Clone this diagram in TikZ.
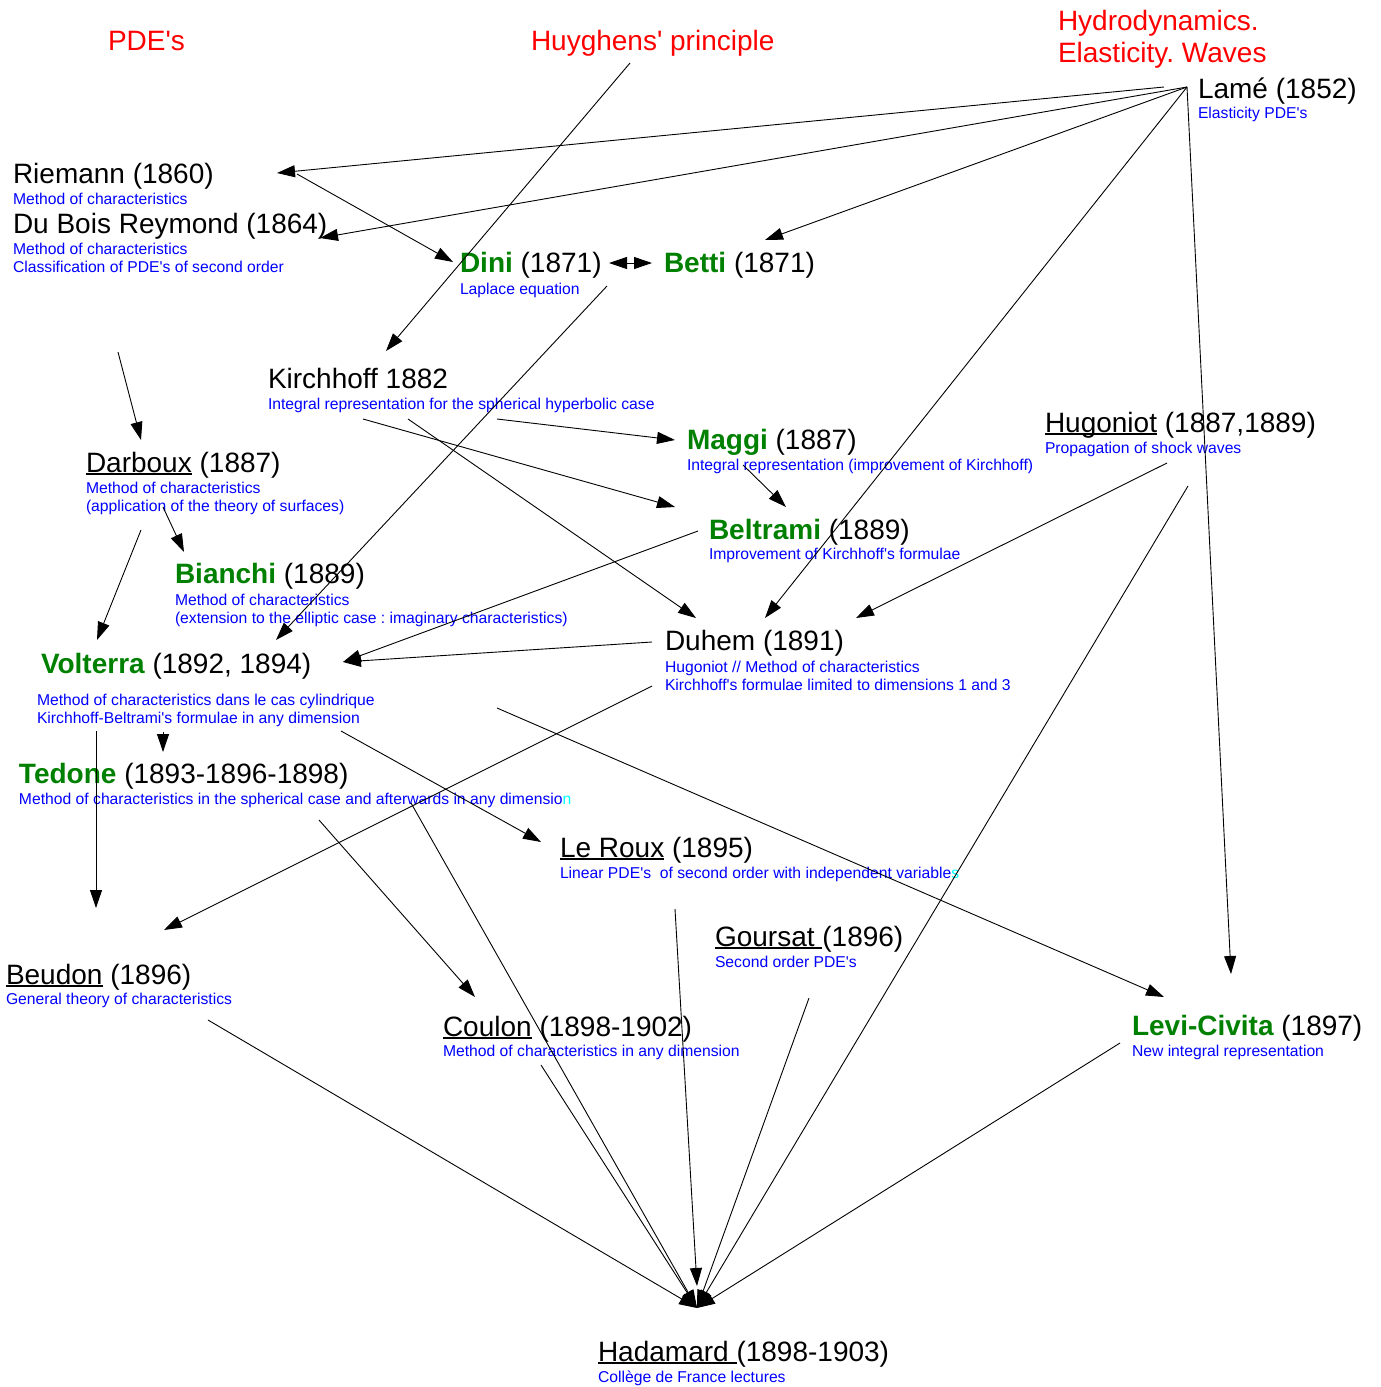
\documentclass[tikz,border=0pt]{standalone}
\usepackage{fontspec}
\setmainfont{Liberation Sans}[Ligatures=TeXOff]
\usetikzlibrary{arrows.meta}
\definecolor{tred}{RGB}{255,0,0}
\definecolor{dblue}{RGB}{0,0,255}
\definecolor{ngreen}{RGB}{0,128,0}
\definecolor{tcyan}{RGB}{0,255,255}
\newsavebox{\myulbox}
\newcommand\ulname[1]{\sbox\myulbox{#1}\rlap{\rule[-2.6pt]{\wd\myulbox}{1.8pt}}\usebox\myulbox}
\newcommand\gname[1]{\textbf{\textcolor{ngreen}{#1}}}
\frenchspacing
\tikzset{
 nm/.style={anchor=base west, inner sep=0pt, outer sep=0pt, font=\fontsize{28}{32}\selectfont},
 ds/.style={anchor=base west, inner sep=0pt, outer sep=0pt, font=\fontsize{15.7}{18}\selectfont, text=dblue},
 tp/.style={anchor=base west, inner sep=0pt, outer sep=0pt, font=\fontsize{28}{32}\selectfont, text=tred},
 arr/.style={line width=0.9pt, -{Triangle[length=18pt,width=12pt]}},
 darr/.style={line width=0.9pt, {Triangle[length=18pt,width=12pt]}-{Triangle[length=18pt,width=12pt]}},
}
\begin{document}
\begin{tikzpicture}[x=1pt,y=-1pt]
\useasboundingbox (0,0) rectangle (1381,1387);
% topics
\node[tp] (pdes) at (108,50) {PDE's};
\node[tp] (huy) at (531,50) {Huyghens' principle};
\node[tp] (hyd1) at (1058,30) {Hydrodynamics.};
\node[tp] (hyd2) at (1058,62) {Elasticity. Waves};
% people
\node[nm] (lame) at (1198,98) {Lamé (1852)};
\node[ds] (lameD) at (1198,118) {Elasticity PDE's};
\node[nm] (riemann) at (13,183) {Riemann (1860)};
\node[ds] (riemannD) at (13,204) {Method of characteristics};
\node[nm] (dubois) at (13,233) {Du Bois Reymond (1864)};
\node[ds] (duboisD1) at (13,254) {Method of characteristics};
\node[ds] (duboisD2) at (13,272) {Classification of PDE's of second order};
\node[nm] (dini) at (460,272) {\gname{Dini} (1871)};
\node[ds] (diniD) at (460,294) {Laplace equation};
\node[nm] (betti) at (664,272) {\gname{Betti} (1871)};
\node[nm] (kirch) at (268,388) {Kirchhoff 1882};
\node[ds] (kirchD) at (268,409) {Integral representation for the spherical hyperbolic case};
\node[nm] (hugo) at (1045,432) {\ulname{Hugoniot} (1887,1889)};
\node[ds] (hugoD) at (1045,453) {Propagation of shock waves};
\node[nm] (maggi) at (687,449) {\gname{Maggi} (1887)};
\node[ds] (maggiD) at (687,470) {Integral representation (improvement of Kirchhoff)};
\node[nm] (darboux) at (86,472) {\ulname{Darboux} (1887)};
\node[ds] (darbouxD1) at (86,493) {Method of characteristics};
\node[ds] (darbouxD2) at (86,511) {(application of the theory of surfaces)};
\node[nm] (beltrami) at (709,539) {\gname{Beltrami} (1889)};
\node[ds] (beltramiD) at (709,559) {Improvement of Kirchhoff's formulae};
\node[nm] (bianchi) at (175,583) {\gname{Bianchi} (1889)};
\node[ds] (bianchiD1) at (175,605) {Method of characteristics};
\node[ds] (bianchiD2) at (175,623) {(extension to the elliptic case : imaginary characteristics)};
\node[nm] (duhem) at (665,650) {Duhem (1891)};
\node[ds] (duhemD1) at (665,672) {Hugoniot // Method of characteristics};
\node[ds] (duhemD2) at (665,690) {Kirchhoff's formulae limited to dimensions 1 and 3};
\node[nm] (volterra) at (41,673) {\gname{Volterra} (1892, 1894)};
\node[ds] (volterraD1) at (37,705) {Method of characteristics dans le cas cylindrique};
\node[ds] (volterraD2) at (37,723) {Kirchhoff-Beltrami's formulae in any dimension};
\node[nm] (tedone) at (19,783) {\gname{Tedone} (1893-1896-1898)};
\node[ds] (tedoneD) at (19,804) {Method of characteristics in the spherical case and afterwards in any dimensio\textcolor{tcyan}{n}};
\node[nm] (leroux) at (560,857) {\ulname{Le Roux} (1895)};
\node[ds] (lerouxD) at (560,878) {Linear PDE's\ \ of second order with independent variable\textcolor{tcyan}{s}};
\node[nm] (goursat) at (715,946) {\ulname{Goursat }(1896)};
\node[ds] (goursatD) at (715,967) {Second order PDE's};
\node[nm] (beudon) at (6,984) {\ulname{Beudon} (1896)};
\node[ds] (beudonD) at (6,1004) {General theory of characteristics};
\node[nm] (coulon) at (443,1036) {\ulname{Coulon} (1898-1902)};
\node[ds] (coulonD) at (443,1056) {Method of characteristics in any dimension};
\node[nm] (levi) at (1132,1035) {\gname{Levi-Civita} (1897)};
\node[ds] (leviD) at (1132,1056) {New integral representation};
\node[nm] (hada) at (598,1361) {\ulname{Hadamard }(1898-1903)};
\node[ds] (hadaD) at (598,1382) {Collège de France lectures};
% connector end points
\coordinate (lameO) at (1187,87);
\coordinate (lameO2) at (1164,87);
\coordinate (riemannIn) at (277,173);
\coordinate (riemannOut) at (297,174);
\coordinate (duboisIn) at (320,238);
\coordinate (bettiIn) at (765,240);
\coordinate (duhemInL) at (765,618);
\coordinate (leviInT) at (1231,974);
\coordinate (diniIn) at (453,262);
\coordinate (diniR) at (609,263);
\coordinate (bettiL) at (652,263);
\coordinate (huyOut) at (630,63);
\coordinate (kirchIn) at (386,351);
\coordinate (diniOut) at (607,286);
\coordinate (volterraInT) at (276,640);
\coordinate (pdeOut) at (118,352);
\coordinate (darbouxIn) at (141,440);
\coordinate (kirchOutA) at (363,419);
\coordinate (kirchOutB) at (408,419);
\coordinate (kirchOutC) at (497,419);
\coordinate (beltramiInK) at (675,507);
\coordinate (maggiIn) at (675,440);
\coordinate (duhemInK) at (696,618);
\coordinate (darbouxOutA) at (163,507);
\coordinate (bianchiIn) at (184,552);
\coordinate (darbouxOutB) at (141,530);
\coordinate (volterraInD) at (97,640);
\coordinate (maggiOut) at (743,465);
\coordinate (beltramiInM) at (786,507);
\coordinate (beltramiOut) at (698,531);
\coordinate (volterraInR) at (343,662);
\coordinate (duhemOutA) at (652,642);
\coordinate (duhemOutB) at (652,686);
\coordinate (beudonInD) at (164,930);
\coordinate (hugoOutA) at (1167,463);
\coordinate (duhemInH) at (856,618);
\coordinate (hugoOutB) at (1188,486);
\coordinate (hadaIn) at (697,1308);
\coordinate (hadaInT) at (697,1286);
\coordinate (volterraOutA) at (96,731);
\coordinate (beudonInV) at (96,908);
\coordinate (volterraOutB) at (163,732);
\coordinate (tedoneIn) at (163,752);
\coordinate (volterraOutC) at (341,731);
\coordinate (lerouxIn) at (541,842);
\coordinate (volterraOutD) at (497,708);
\coordinate (leviInV) at (1164,997);
\coordinate (tedoneOutA) at (319,820);
\coordinate (coulonIn) at (475,997);
\coordinate (tedoneOutB) at (411,803);
\coordinate (coulonOut) at (541,1065);
\coordinate (lerouxOut) at (675,909);
\coordinate (goursatOut) at (809,998);
\coordinate (leviOut) at (1120,1043);
\coordinate (beudonOut) at (208,1020);
% connectors
\draw[arr] (lameO2) -- (riemannIn);
\draw[arr] (lameO) -- (duboisIn);
\draw[arr] (lameO) -- (bettiIn);
\draw[arr] (lameO) -- (duhemInL);
\draw[arr] (lameO) -- (leviInT);
\draw[arr] (riemannOut) -- (diniIn);
\draw[darr] (diniR) -- (bettiL);
\draw[arr] (huyOut) -- (kirchIn);
\draw[arr] (diniOut) -- (volterraInT);
\draw[arr] (pdeOut) -- (darbouxIn);
\draw[arr] (kirchOutA) -- (beltramiInK);
\draw[arr] (kirchOutB) -- (duhemInK);
\draw[arr] (kirchOutC) -- (maggiIn);
\draw[arr] (darbouxOutA) -- (bianchiIn);
\draw[arr] (darbouxOutB) -- (volterraInD);
\draw[arr] (maggiOut) -- (beltramiInM);
\draw[arr] (beltramiOut) -- (volterraInR);
\draw[arr] (duhemOutA) -- (volterraInR);
\draw[arr] (duhemOutB) -- (beudonInD);
\draw[arr] (hugoOutA) -- (duhemInH);
\draw[arr] (hugoOutB) -- (hadaIn);
\draw[arr] (volterraOutA) -- (beudonInV);
\draw[arr] (volterraOutB) -- (tedoneIn);
\draw[arr] (volterraOutC) -- (lerouxIn);
\draw[arr] (volterraOutD) -- (leviInV);
\draw[arr] (tedoneOutA) -- (coulonIn);
\draw[arr] (tedoneOutB) -- (hadaIn);
\draw[arr] (coulonOut) -- (hadaIn);
\draw[arr] (lerouxOut) -- (hadaInT);
\draw[arr] (goursatOut) -- (hadaIn);
\draw[arr] (leviOut) -- (hadaIn);
\draw[arr] (beudonOut) -- (hadaIn);
\end{tikzpicture}
\end{document}
